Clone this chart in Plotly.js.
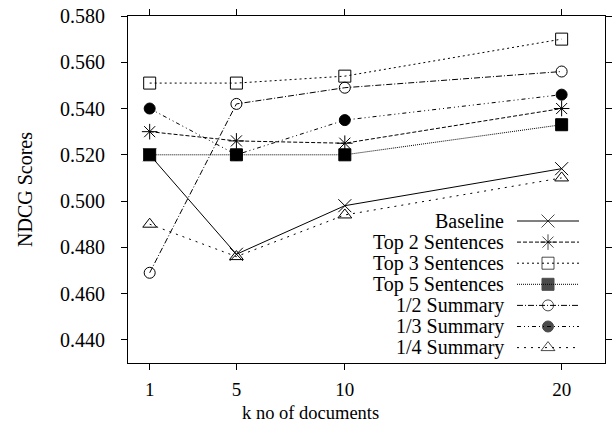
<!DOCTYPE html>
<html>
<head>
<meta charset="utf-8">
<script src="https://cdn.plot.ly/plotly-3.0.1.min.js"></script>
<style>html,body{margin:0;padding:0;background:#fff}#chart{width:614px;height:433px}</style>
</head>
<body>
<div id="chart"></div>
<script>
const kDocs = [1, 5, 10, 20];
const seriesNames = ["Baseline", "Top 2 Sentences", "Top 3 Sentences", "Top 5 Sentences", "1/2 Summary", "1/3 Summary", "1/4 Summary"];
const baseline   = [0.520, 0.477, 0.498, 0.514];
const top2       = [0.530, 0.526, 0.525, 0.540];
const top3       = [0.551, 0.551, 0.554, 0.570];
const top5       = [0.520, 0.520, 0.520, 0.533];
const half       = [0.469, 0.542, 0.549, 0.556];
const third      = [0.540, 0.520, 0.535, 0.546];
const quarter    = [0.490, 0.476, 0.494, 0.510];
const yTicks     = [0.44, 0.46, 0.48, 0.50, 0.52, 0.54, 0.56, 0.58];

const seriesValues = [baseline, top2, top3, top5, half, third, quarter];
const styles = [
  {dash: "solid", symbol: "x-thin-open", size: 13},
  {dash: "4px,2px", symbol: "asterisk-open", size: 13},
  {dash: "2px,3px", symbol: "square-open", size: 12},
  {dash: "1px,1px", symbol: "square", size: 12},
  {dash: "6px,2px,1px,2px", symbol: "circle-open", size: 11},
  {dash: "4px,3px,1px,3px,1px,3px", symbol: "circle", size: 11},
  {dash: "2px,5px", symbol: "triangle-up-open", size: 12}
];

const PL = 128, PR = 605, PT = 16, PB = 363, W = 614, H = 433;
const FONT = "Liberation Serif";

const traces = [];
seriesValues.forEach((vals, i) => {
  traces.push({
    x: kDocs, y: vals, name: seriesNames[i], type: "scatter", mode: "lines+markers",
    line: {color: "#000", width: 1, dash: styles[i].dash},
    marker: {symbol: styles[i].symbol, size: styles[i].size, color: "#000", line: {color: "#000", width: 1}},
    showlegend: false, cliponaxis: false
  });
});

// custom legend (text on the left, sample on the right)
const legTextRight = 505, legX0 = 517, legX1 = 579, legRow0 = 221, legStep = 21.1;
const fx = px => (px - PL) / (PR - PL);
const fy = py => (PB - py) / (PB - PT);
const annotations = [];
seriesNames.forEach((nm, i) => {
  const py = legRow0 + i * legStep;
  traces.push({
    x: [fx(legX0), fx((legX0 + legX1) / 2), fx(legX1)], y: [fy(py), fy(py), fy(py)],
    xaxis: "x2", yaxis: "y2", type: "scatter", mode: "lines+markers", showlegend: false,
    line: {color: "#000", width: 1, dash: styles[i].dash},
    marker: {symbol: styles[i].symbol, size: [0, styles[i].size, 0], color: "#000", line: {color: "#000", width: 1}},
    hoverinfo: "skip"
  });
  annotations.push({
    xref: "paper", yref: "paper", x: fx(legTextRight), y: fy(py), xanchor: "right", yanchor: "middle",
    text: nm, showarrow: false, borderpad: 0, font: {family: FONT, size: 20, color: "#000"}
  });
});
annotations.push({
  xref: "paper", yref: "paper", x: fx(310), y: fy(413), xanchor: "center", yanchor: "middle",
  text: "k no of documents", showarrow: false, font: {family: FONT, size: 18.5, color: "#000"}
});
annotations.push({
  xref: "paper", yref: "paper", x: fx(25), y: fy(190), xanchor: "center", yanchor: "middle",
  text: "NDCG Scores", textangle: -90, showarrow: false, font: {family: FONT, size: 20, color: "#000"}
});

const layout = {
  width: W, height: H,
  margin: {l: PL, r: W - PR, t: PT, b: H - PB, pad: 0},
  paper_bgcolor: "#fff", plot_bgcolor: "#fff",
  font: {family: FONT, size: 20, color: "#000"},
  showlegend: false,
  xaxis: {
    range: [0, 22], tickvals: kDocs, ticktext: kDocs.map(String),
    showgrid: false, zeroline: false, showline: true, linecolor: "#000", linewidth: 1,
    mirror: "ticks", ticks: "outside", ticklen: 6, tickcolor: "#000", tickwidth: 1,
    ticklabelstandoff: 3, tickfont: {family: FONT, size: 19, color: "#000"}
  },
  yaxis: {
    range: [0.43, 0.58], tickvals: yTicks, ticktext: yTicks.map(v => v.toFixed(3)),
    showgrid: false, zeroline: false, showline: true, linecolor: "#000", linewidth: 1,
    mirror: "ticks", ticks: "outside", ticklen: 6, tickcolor: "#000", tickwidth: 1,
    ticklabelstandoff: 12, tickfont: {family: FONT, size: 20, color: "#000"}
  },
  xaxis2: {overlaying: "x", range: [0, 1], visible: false, anchor: "y2", fixedrange: true},
  yaxis2: {overlaying: "y", range: [0, 1], visible: false, anchor: "x2", fixedrange: true},
  annotations: annotations
};

Plotly.newPlot("chart", traces, layout, {staticPlot: true, displayModeBar: false});
</script>
</body>
</html>
